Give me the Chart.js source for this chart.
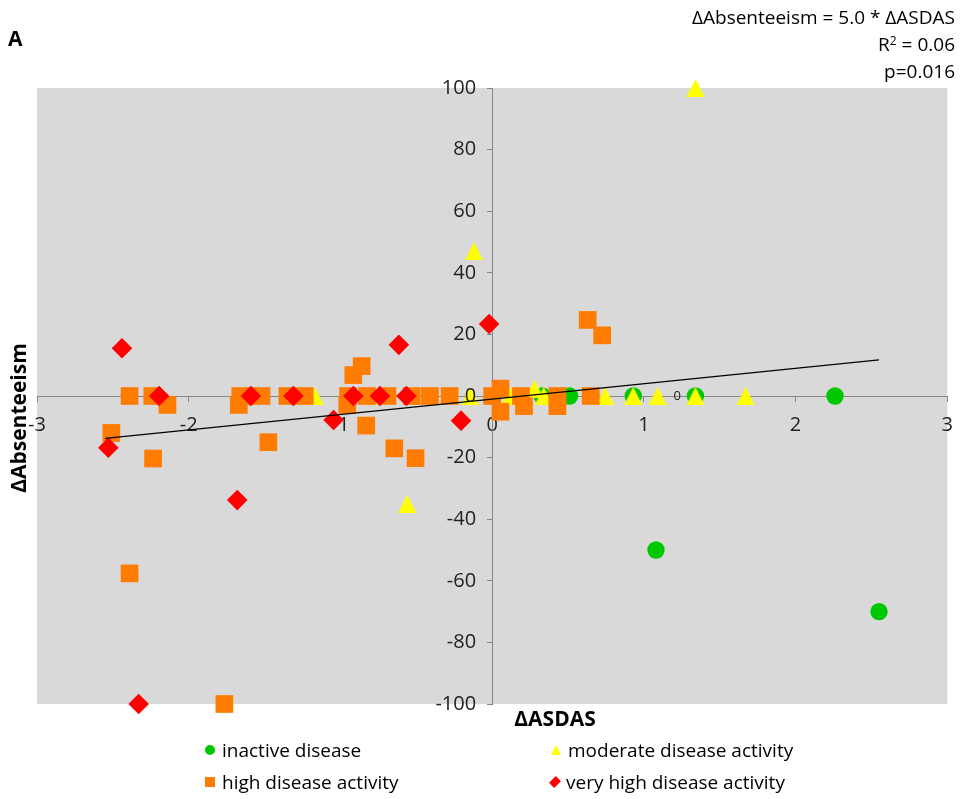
<!DOCTYPE html>
<html>
<head>
<meta charset="utf-8">
<script src="https://cdn.jsdelivr.net/npm/chart.js@4.4.1/dist/chart.umd.min.js"></script>
<style>
  body { margin: 0; background: #fff; }
  #wrap { position: relative; width: 965px; height: 799px; font-family: "Liberation Sans Narrow", "Open Sans", sans-serif; color: #000; }
  #wrap canvas { position: absolute; left: 0; top: 0; }
  .t { position: absolute; white-space: nowrap; }
  #legend { position: absolute; left: 205px; top: 738px; display: grid; grid-template-columns: 346px 300px; row-gap: 8px; font-size: 19px; }
  #legend .item { display: flex; align-items: center; height: 24px; }
  #legend .mk { width: 10px; height: 10px; margin-right: 7px; flex: none; }
</style>
</head>
<body>
<div id="wrap">
  <canvas id="chart" width="965" height="799"></canvas>
  <div class="t" style="left:8px;top:24px;font-weight:bold;font-size:21px;">A</div>
  <div class="t" style="right:10px;top:4px;text-align:right;font-size:19px;line-height:27px;">ΔAbsenteeism = 5.0 * ΔASDAS<br>R<sup style="font-size:12px;vertical-align:6px;line-height:0">2</sup> = 0.06<br>p=0.016</div>
  <div class="t" style="left:18px;top:418px;transform:translate(-50%,-50%) rotate(-90deg);font-weight:bold;font-size:21px;">ΔAbsenteeism</div>
  <div class="t" style="left:555px;top:718px;transform:translate(-50%,-50%);font-weight:bold;font-size:21px;">ΔASDAS</div>
  <div id="legend"></div>
</div>
<script>
// Change in ASDAS (x) versus change in absenteeism (y), grouped by disease activity
const seriesNames = ["inactive disease", "moderate disease activity", "high disease activity", "very high disease activity"];

const inactiveX = [0.33, 0.51, 0.93, 1.34, 2.26, 1.08, 2.55];
const inactiveY = [0, 0, 0, 0, 0, -50, -70];

const moderateX = [1.34, -0.12, -0.56, -1.17, -0.79, -0.145, 0.12, 0.28, 0.34, 0.745, 0.93, 1.09, 1.34, 1.67];
const moderateY = [100, 47, -35, 0, 0, 0, 0, 2.3, 0, 0, 0, 0, 0, 0];

const highX = [-2.39, -2.24, -2.14, -2.51, -2.235, -2.39, -1.765, -1.66, -1.52, -1.67, -1.475, -1.35, -1.235,
               -0.955, -0.95, -0.915, -0.86, -0.83, -0.825, -0.69, -0.53, -0.41, -0.28, -0.645, -0.505,
               0, 0.055, 0.055, 0.19, 0.21, 0.43, 0.43, 0.65, 0.63, 0.725];
const highY = [0, 0, -2.9, -12, -20.3, -57.6, -100, 0, 0, -2.9, -15, 0, 0,
               -2.9, 0, 6.8, 9.7, -9.6, 0, 0, 0, 0, 0, -17, -20.2,
               0, 2.4, -5.1, 0, -3.3, 0, -3.3, 0, 24.7, 19.7];

const veryHighX = [-2.44, -2.53, -2.195, -1.59, -1.31, -1.68, -2.33, -1.045, -0.915, -0.74, -0.615, -0.565, -0.205, -0.02];
const veryHighY = [15.5, -16.8, 0, 0, 0, -33.8, -100, -7.8, 0, 0, 16.6, 0, -8, 23.4];

// Linear fit: ΔAbsenteeism = 5.0 * ΔASDAS (+ small offset)
const fitSlope = 5.0;
const fitIntercept = -1.0;
const fitRangeX = [-2.55, 2.55];

const xTicks = [-3, -2, -1, 0, 1, 2, 3];
const yTicks = [-100, -80, -60, -40, -20, 0, 20, 40, 60, 80, 100];

// stray value label sitting on the zero line
const noteLabel = { x: 1.22, y: 0, text: "0" };

const colors = ["#00c800", "#ffff00", "#ff7c00", "#ff0000"];
const FONT = '"Liberation Sans Narrow", "Open Sans", sans-serif';
const axisColor = '#868686';
const tickTextColor = '#222';

const pts = (xs, ys) => xs.map((x, i) => ({ x, y: ys[i] }));

// Triangle marker centred in its box (base and height equal)
function triangleMarker(size, color) {
  const c = document.createElement('canvas');
  c.width = size; c.height = size;
  const g = c.getContext('2d');
  g.fillStyle = color;
  g.beginPath();
  g.moveTo(size / 2, 0);
  g.lineTo(size, size);
  g.lineTo(0, size);
  g.closePath();
  g.fill();
  return c;
}

const plotBg = {
  id: 'plotBg',
  beforeDraw(chart) {
    const { ctx, chartArea: a } = chart;
    ctx.save();
    ctx.fillStyle = '#d9d9d9';
    ctx.fillRect(a.left, a.top, a.right - a.left, a.bottom - a.top);
    ctx.restore();
  }
};

// Value labels of the vertical axis, set off to the left of the axis line
const yAxisLabels = {
  id: 'yAxisLabels',
  afterDraw(chart) {
    const { ctx, scales } = chart;
    const x0 = scales.x.getPixelForValue(0);
    ctx.save();
    ctx.font = '20px ' + FONT;
    ctx.fillStyle = tickTextColor;
    ctx.textAlign = 'right';
    ctx.textBaseline = 'middle';
    yTicks.forEach(v => ctx.fillText(String(v), x0 - 16, scales.y.getPixelForValue(v)));
    ctx.restore();
  }
};

const noteText = {
  id: 'noteText',
  afterDatasetsDraw(chart) {
    const { ctx, scales } = chart;
    ctx.save();
    ctx.font = '13px ' + FONT;
    ctx.fillStyle = tickTextColor;
    ctx.textAlign = 'center';
    ctx.textBaseline = 'middle';
    ctx.fillText(noteLabel.text, scales.x.getPixelForValue(noteLabel.x), scales.y.getPixelForValue(noteLabel.y));
    ctx.restore();
  }
};

new Chart(document.getElementById('chart'), {
  type: 'scatter',
  data: {
    datasets: [
      { label: seriesNames[0], data: pts(inactiveX, inactiveY), pointStyle: 'circle', pointRadius: 8.7,
        backgroundColor: colors[0], borderWidth: 0, order: 4, clip: false },
      { label: seriesNames[1], data: pts(moderateX, moderateY), pointStyle: triangleMarker(18, colors[1]), pointRadius: 9,
        backgroundColor: colors[1], borderWidth: 0, order: 3, clip: false },
      { label: seriesNames[2], data: pts(highX, highY), pointStyle: 'rect', pointRadius: 12.5,
        backgroundColor: colors[2], borderWidth: 0, order: 2, clip: false },
      { label: seriesNames[3], data: pts(veryHighX, veryHighY), pointStyle: 'rectRot', pointRadius: 10.3,
        backgroundColor: colors[3], borderWidth: 0, order: 1, clip: false },
      { label: 'fit', type: 'line', data: fitRangeX.map(x => ({ x, y: fitSlope * x + fitIntercept })),
        borderColor: '#000', borderWidth: 1.3, pointRadius: 0, showLine: true, fill: false, order: 0 }
    ]
  },
  options: {
    responsive: false,
    animation: false,
    devicePixelRatio: 1,
    layout: { padding: { left: 37, right: 17, top: 88, bottom: 95 } },
    plugins: { legend: { display: false }, tooltip: { enabled: false } },
    elements: { point: { hoverRadius: 0 } },
    scales: {
      x: {
        type: 'linear', min: -3, max: 3, position: { y: 0 },
        afterBuildTicks: s => { s.ticks = xTicks.map(v => ({ value: v })); },
        grid: { drawOnChartArea: false, tickLength: 5, color: axisColor },
        border: { color: axisColor },
        ticks: { font: { size: 20, family: FONT }, color: tickTextColor, padding: 12, maxRotation: 0 }
      },
      y: {
        type: 'linear', min: -100, max: 100, position: { x: 0 },
        afterBuildTicks: s => { s.ticks = yTicks.map(v => ({ value: v })); },
        grid: { drawOnChartArea: false, tickLength: 5, color: axisColor },
        border: { color: axisColor },
        ticks: { display: false }
      }
    }
  },
  plugins: [plotBg, yAxisLabels, noteText]
});

// Legend built from the series names and colours
const shapes = ['circle', 'triangle', 'square', 'diamond'];
const legend = document.getElementById('legend');
[0, 1, 2, 3].forEach(i => {
  const item = document.createElement('div');
  item.className = 'item';
  const mk = document.createElement('span');
  mk.className = 'mk';
  const c = colors[i];
  if (shapes[i] === 'circle') { mk.style.background = c; mk.style.borderRadius = '50%'; }
  else if (shapes[i] === 'square') { mk.style.background = c; }
  else if (shapes[i] === 'diamond') { mk.style.background = c; mk.style.width = '8px'; mk.style.height = '8px'; mk.style.transform = 'rotate(45deg) scale(0.9,1.2)'; }
  else { mk.style.width = '0'; mk.style.height = '0'; mk.style.borderLeft = '5px solid transparent'; mk.style.borderRight = '5px solid transparent'; mk.style.borderBottom = '10px solid ' + c; }
  const tx = document.createElement('span');
  tx.textContent = seriesNames[i];
  item.appendChild(mk);
  item.appendChild(tx);
  legend.appendChild(item);
});
</script>
</body>
</html>
